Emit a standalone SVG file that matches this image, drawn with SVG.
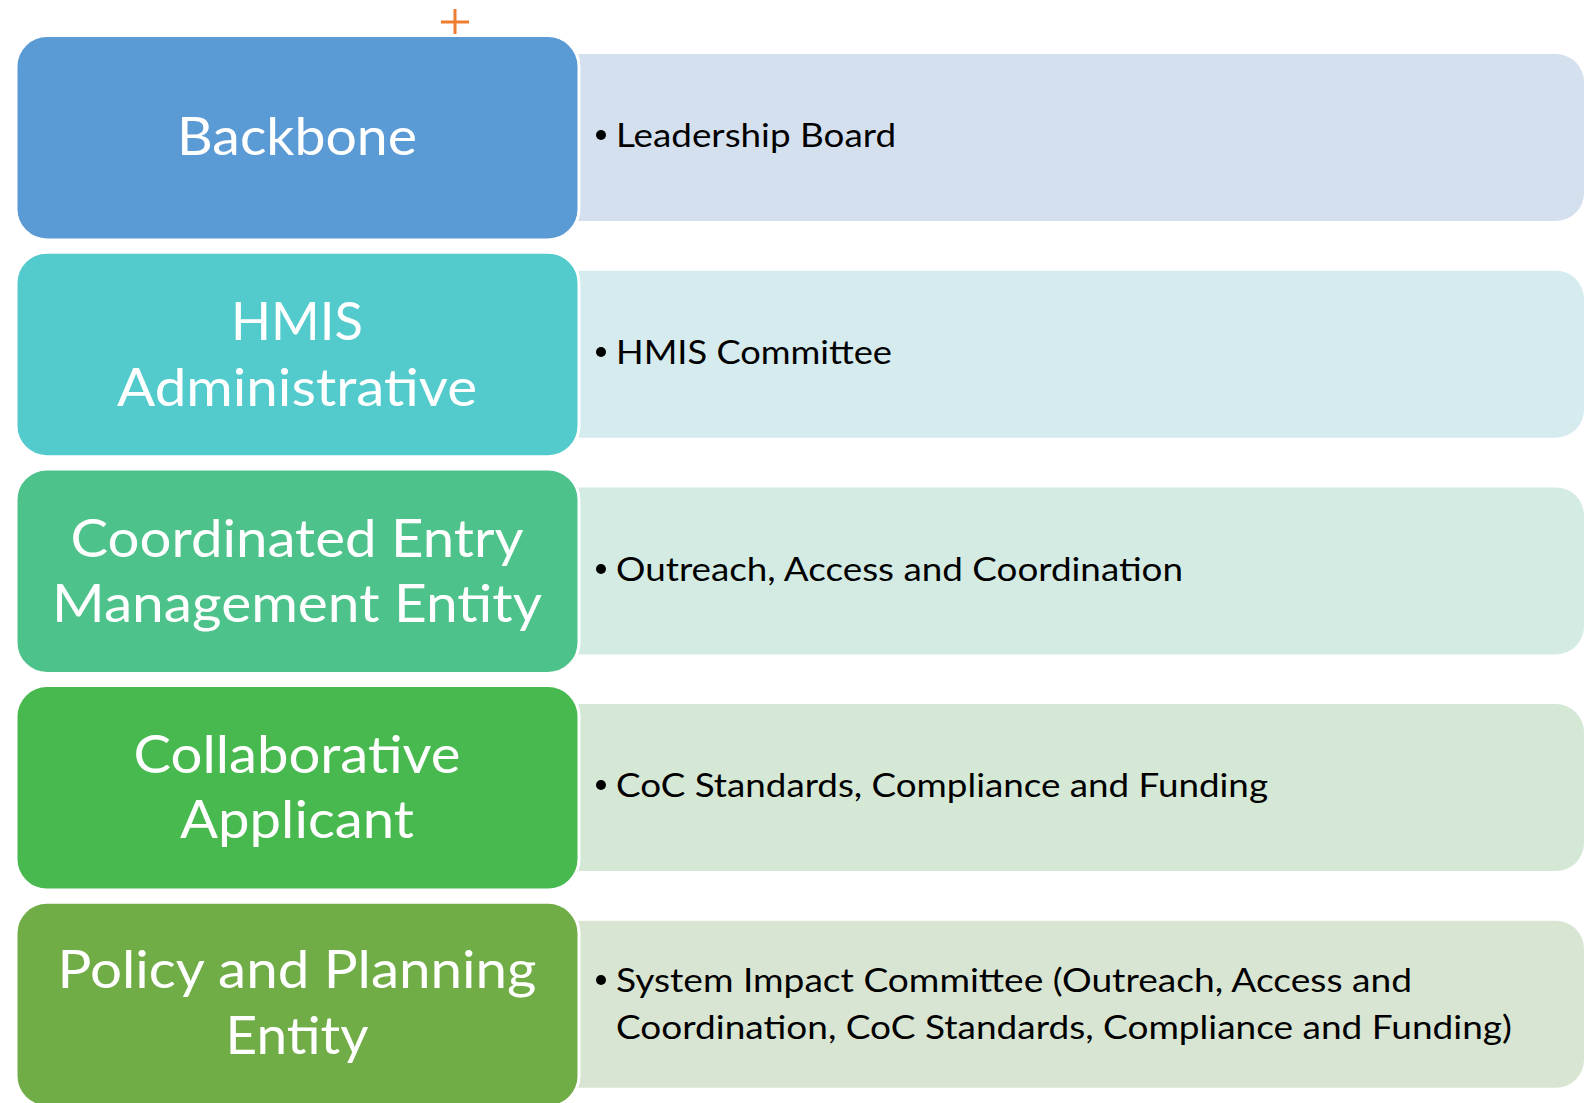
<svg xmlns="http://www.w3.org/2000/svg" width="1591" height="1103" viewBox="0 0 1591 1103">
<style>
.lbox{stroke:#ffffff;stroke-width:3}
.ltxt{font-family:Lato,"Liberation Sans",sans-serif;font-size:53px;fill:#ffffff;text-anchor:middle}
.rtxt{font-family:Lato,"Liberation Sans",sans-serif;font-size:33px;fill:#000000}
.bul{fill:#000000}
</style>
<rect width="1591" height="1103" fill="#ffffff"/>
<g id="connectors"></g>
<g id="plus"><path d="M441 22H469M455 9V34" stroke="#ED7D31" stroke-width="3" fill="none"/></g>
<g id="row1">
<path d="M560 54H1556A28 28 0 0 1 1584 82V193A28 28 0 0 1 1556 221H560Z" fill="#D5E0EF"/>
<rect class="lbox" x="16" y="35.5" width="563" height="204.5" rx="31" fill="#5B9BD5"/>
<text class="ltxt" x="297" y="155" textLength="240" lengthAdjust="spacingAndGlyphs">Backbone</text>
<circle class="bul" cx="601" cy="135" r="5"/>
<text class="rtxt" x="616" y="147" textLength="280" lengthAdjust="spacingAndGlyphs">Leadership Board</text>
</g>
<g id="row2">
<path d="M560 270.7H1556A28 28 0 0 1 1584 298.7V409.7A28 28 0 0 1 1556 437.7H560Z" fill="#D5EBEE"/>
<rect class="lbox" x="16" y="252.2" width="563" height="204.5" rx="31" fill="#53CBCC"/>
<text class="ltxt" x="297" y="340" textLength="132" lengthAdjust="spacingAndGlyphs">HMIS</text>
<text class="ltxt" x="297" y="406" textLength="360" lengthAdjust="spacingAndGlyphs">Administrative</text>
<circle class="bul" cx="601" cy="352" r="5"/>
<text class="rtxt" x="616" y="364" textLength="276" lengthAdjust="spacingAndGlyphs">HMIS Committee</text>
</g>
<g id="row3">
<path d="M560 487.4H1556A28 28 0 0 1 1584 515.4V626.4A28 28 0 0 1 1556 654.4H560Z" fill="#D4EBE3"/>
<rect class="lbox" x="16" y="468.9" width="563" height="204.5" rx="31" fill="#4DC38B"/>
<text class="ltxt" x="297" y="557" textLength="453" lengthAdjust="spacingAndGlyphs">Coordinated Entry</text>
<text class="ltxt" x="297" y="622" textLength="490" lengthAdjust="spacingAndGlyphs">Management Entity</text>
<circle class="bul" cx="601" cy="569" r="5"/>
<text class="rtxt" x="616" y="581" textLength="567" lengthAdjust="spacingAndGlyphs">Outreach, Access and Coordination</text>
</g>
<g id="row4">
<path d="M560 704.1H1556A28 28 0 0 1 1584 732.1V843.1A28 28 0 0 1 1556 871.1H560Z" fill="#D5E8D6"/>
<rect class="lbox" x="16" y="685.6" width="563" height="204.5" rx="31" fill="#48B94F"/>
<text class="ltxt" x="297" y="773" textLength="327" lengthAdjust="spacingAndGlyphs">Collaborative</text>
<text class="ltxt" x="297" y="838" textLength="234" lengthAdjust="spacingAndGlyphs">Applicant</text>
<circle class="bul" cx="601" cy="785" r="5"/>
<text class="rtxt" x="616" y="797" textLength="652" lengthAdjust="spacingAndGlyphs">CoC Standards, Compliance and Funding</text>
</g>
<g id="row5">
<path d="M560 920.8H1556A28 28 0 0 1 1584 948.8V1059.8A28 28 0 0 1 1556 1087.8H560Z" fill="#D9E5D3"/>
<rect class="lbox" x="16" y="902.3" width="563" height="204.5" rx="31" fill="#70AD47"/>
<text class="ltxt" x="297" y="988" textLength="479" lengthAdjust="spacingAndGlyphs">Policy and Planning</text>
<text class="ltxt" x="297" y="1054" textLength="143" lengthAdjust="spacingAndGlyphs">Entity</text>
<circle class="bul" cx="601" cy="980" r="5"/>
<text class="rtxt" x="616" y="992" textLength="796" lengthAdjust="spacingAndGlyphs">System Impact Committee (Outreach, Access and</text>
<text class="rtxt" x="616" y="1039" textLength="896" lengthAdjust="spacingAndGlyphs">Coordination, CoC Standards, Compliance and Funding)</text>
</g>
</svg>
